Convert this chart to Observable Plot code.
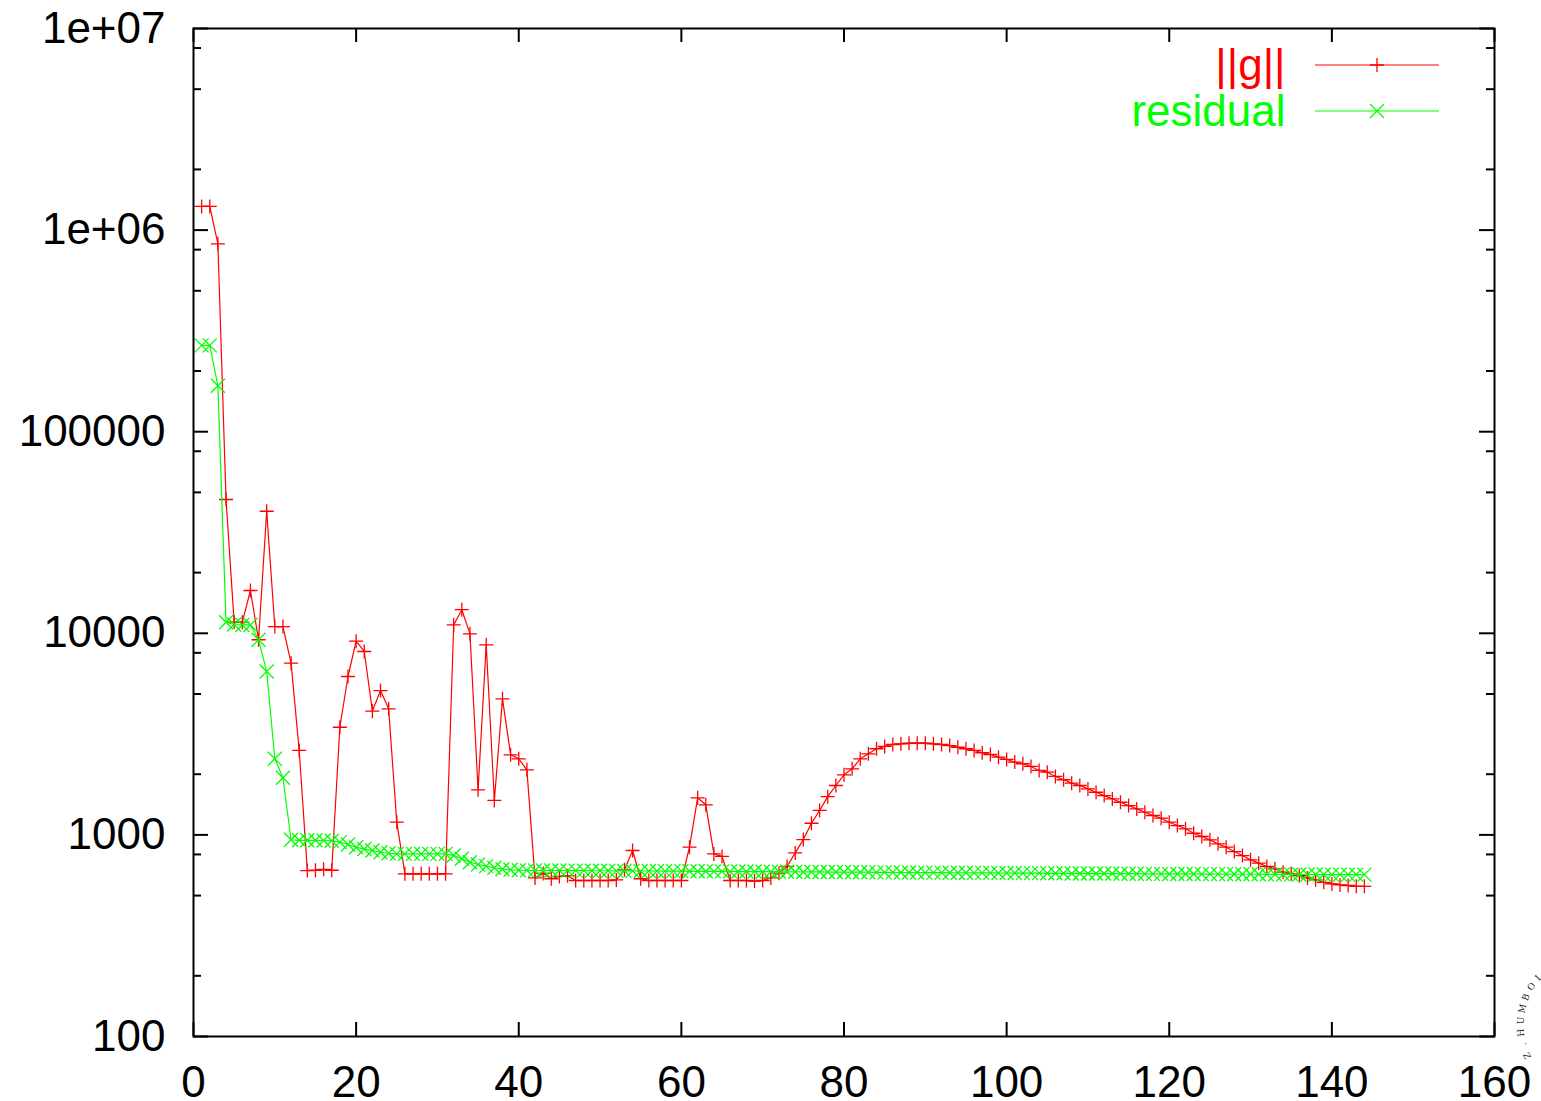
<!DOCTYPE html>
<html><head><meta charset="utf-8">
<script src="https://cdn.jsdelivr.net/npm/d3@7"></script>
<script src="https://cdn.jsdelivr.net/npm/@observablehq/plot@0.6"></script>
<style>html,body{margin:0;padding:0;background:#fff;} svg{display:block}</style>
</head><body><div id="chart"></div>
<script>
// ||g|| per iteration (iteration = index + 1)
const gNorm = [
  1310000,1310000,855000,46100,11350,11350,16300,9290,40300,10800,
  10800,7110,2624,665,668,675,668,3420,6105,9140,
  8125,4110,5200,4220,1156,641,641,641,641,641,
  641,11000,13090,9940,1674,8770,1482,4730,2497,2384,
  2102,612,644,606,622,628,594,594,594,594,
  594,598,671,837,606,594,594,594,594,594,
  869,1528,1410,805,782,594,594,594,590,594,
  612,646,697,814,948,1142,1322,1548,1758,1987,
  2128,2384,2525,2675,2748,2808,2830,2852,2852,2852,
  2830,2808,2775,2722,2675,2624,2555,2505,2430,2367,
  2297,2254,2185,2088,2047,1950,1877,1806,1758,1691,
  1628,1567,1509,1452,1398,1346,1296,1248,1210,1156,
  1113,1072,1019,982,945,903,869,827,790,752,
  724,697,679,653,641,629,612,598,582,571,
  565,561,556,556
];
// residual per iteration
const residual = [
  268000,268000,169000,11350,11060,11000,11000,9290,6460,2385,
  1920,946,940,940,940,938,935,921,896,868,
  852,836,820,811,805,805,805,805,805,805,
  805,790,761,732,713,700,687,676,671,668,
  667,667,666,666,666,665,665,665,664,664,
  664,663,663,663,662,662,662,661,661,661,
  660,660,660,659,659,659,658,658,658,657,
  657,657,656,656,655,655,655,654,654,654,
  653,653,653,652,652,652,651,651,651,650,
  650,650,649,649,649,648,648,648,647,647,
  647,646,646,646,645,645,645,644,644,644,
  643,643,643,642,642,642,641,641,641,640,
  640,640,640,639,639,639,639,638,638,638,
  638,637,637,637,637,636,636,636,636,635,
  635,635,635,635
];
const seriesNames = ["||g||", "residual"];
const seriesColors = ["#ff0000", "#00ff00"];
const xTicks = [0,20,40,60,80,100,120,140,160];
const yMajor = [100,1000,10000,100000,1000000,10000000];
const yMajorLabels = ["100","1000","10000","100000","1e+06","1e+07"];
const yMinor = [200,500,800,2000,5000,8000,20000,50000,80000,200000,500000,800000,2000000,5000000,8000000];
const sealChars = ["Z", ".", "H", "U", "M", "B", "O", "L", "D", "T"];

const W = 1541, H = 1101;
const mL = 193, mR = 47, mT = 28, mB = 65;
const pw = W - mL - mR, ph = H - mT - mB;
const font = "'Liberation Sans', Arial, Helvetica, sans-serif";

const gData = gNorm.map((v, i) => ({x: i + 1, y: v}));
const rData = residual.map((v, i) => ({x: i + 1, y: v}));

const plusSym = {draw(ctx) { const r = 7; ctx.moveTo(-r, 0); ctx.lineTo(r, 0); ctx.moveTo(0, -r); ctx.lineTo(0, r); }};
const timesSym = {draw(ctx) { const r = 7; ctx.moveTo(-r, -r); ctx.lineTo(r, r); ctx.moveTo(-r, r); ctx.lineTo(r, -r); }};

const labelMap = new Map(yMajor.map((v, i) => [v, yMajorLabels[i]]));

const chart = Plot.plot({
  width: W, height: H,
  marginLeft: mL, marginRight: mR, marginTop: mT, marginBottom: mB,
  style: {fontFamily: font, fontSize: "44px", color: "black", background: "white", overflow: "visible"},
  x: {domain: [0, 160]},
  y: {type: "log", domain: [100, 1e7]},
  marks: [
    Plot.line(gData, {x: "x", y: "y", stroke: seriesColors[0], strokeWidth: 1.2}),
    Plot.dot(gData, {x: "x", y: "y", symbol: plusSym, stroke: seriesColors[0], fill: "none", strokeWidth: 1.3}),
    Plot.line(rData, {x: "x", y: "y", stroke: seriesColors[1], strokeWidth: 1.2}),
    Plot.dot(rData, {x: "x", y: "y", symbol: timesSym, stroke: seriesColors[1], fill: "none", strokeWidth: 1.3}),
    // inward ticks
    Plot.tickY(yMajor, {y: d => d, insetRight: pw - 15, stroke: "black", strokeWidth: 2}),
    Plot.tickY(yMajor, {y: d => d, insetLeft: pw - 15, stroke: "black", strokeWidth: 2}),
    Plot.tickY(yMinor, {y: d => d, insetRight: pw - 8, stroke: "black", strokeWidth: 2}),
    Plot.tickY(yMinor, {y: d => d, insetLeft: pw - 8, stroke: "black", strokeWidth: 2}),
    Plot.tickX(xTicks, {x: d => d, insetTop: ph - 14, stroke: "black", strokeWidth: 2}),
    Plot.tickX(xTicks, {x: d => d, insetBottom: ph - 14, stroke: "black", strokeWidth: 2}),
    Plot.frame({stroke: "black", strokeWidth: 2}),
    Plot.axisY(yMajor, {tickSize: 0, tickPadding: 28, tickFormat: d => labelMap.get(d), fontSize: 44, label: null}),
    Plot.axisX(xTicks, {tickSize: 0, tickPadding: 29, fontSize: 44, label: null}),
    Plot.text([seriesNames[0]], {text: d => d, frameAnchor: "top-right", dx: -209, dy: 37, textAnchor: "end", lineAnchor: "middle", fill: seriesColors[0], fontSize: 44}),
    Plot.text([seriesNames[1]], {text: d => d, frameAnchor: "top-right", dx: -209, dy: 83, textAnchor: "end", lineAnchor: "middle", fill: seriesColors[1], fontSize: 44})
  ]
});
document.getElementById("chart").appendChild(chart);

// legend line samples with markers
const svg = d3.select(chart);
const right = W - mR;
const legendRows = [
  {y: mT + 37, color: seriesColors[0], sym: plusSym},
  {y: mT + 83, color: seriesColors[1], sym: timesSym}
];
legendRows.forEach(r => {
  const g = svg.append("g").attr("stroke", r.color).attr("fill", "none").attr("stroke-width", 1.2);
  g.append("line").attr("x1", right - 179).attr("x2", right - 55).attr("y1", r.y).attr("y2", r.y);
  const p = d3.path(); r.sym.draw(p);
  g.append("path").attr("d", p.toString()).attr("transform", `translate(${right - 117},${r.y})`).attr("stroke-width", 1.3);
});

// small seal lettering in the bottom-right corner, set along an arc
const sealCx = 1593, sealCy = 1025, sealR = 72, sealStart = 155, sealStep = 9.5;
const seal = svg.append("g").attr("font-family", "'DejaVu Serif', serif").attr("font-size", 9).attr("fill", "#222")
  .attr("text-anchor", "middle").attr("dominant-baseline", "middle");
sealChars.forEach((ch, i) => {
  const a = sealStart + i * sealStep;
  const rad = a * Math.PI / 180;
  const x = sealCx + sealR * Math.cos(rad), y = sealCy + sealR * Math.sin(rad);
  seal.append("text").attr("transform", `translate(${x},${y}) rotate(${a + 90})`).text(ch);
});
</script>
</body></html>
